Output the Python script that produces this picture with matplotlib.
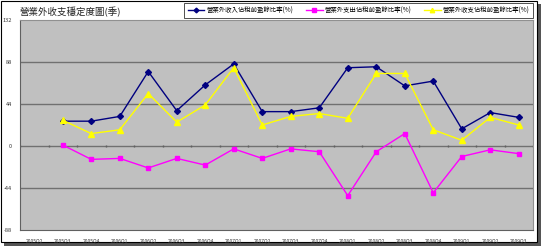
import numpy as np
import matplotlib.pyplot as plt
from matplotlib.patches import Rectangle

plt.rcParams['font.family'] = ['Noto Sans CJK TC', 'DejaVu Sans']

quarters = ['2005Q2', '2005Q3', '2005Q4', '2006Q1', '2006Q2', '2006Q3', '2006Q4',
            '2007Q1', '2007Q2', '2007Q3', '2007Q4', '2008Q1', '2008Q2', '2008Q3',
            '2008Q4', '2009Q1', '2009Q2', '2009Q3']
# 2005Q2 has no data
income = [np.nan, 26, 26, 31, 78, 37, 64, 86, 36, 36, 40, 82, 83, 63, 68, 18, 35, 30]
expense = [np.nan, 1, -14, -13, -23, -13, -20, -3, -13, -3, -6, -52, -6, 13, -49, -11, -4, -8]
net = [np.nan, 27, 13, 17, 55, 25, 43, 82, 22, 31, 34, 29, 76, 76, 17, 6, 30, 22]

labels = ['營業外收入佔稅前盈餘比率(%)', '營業外支出佔稅前盈餘比率(%)', '營業外收支佔稅前盈餘比率(%)']
yticks = [-88, -44, 0, 44, 88, 132]

W, H = 544, 247
fig = plt.figure(figsize=(W / 100, H / 100), dpi=100)

# outer chart border with a shadow
fig.patches.append(Rectangle((4 / W, 1 - 246 / H), 537 / W, 242 / H, transform=fig.transFigure,
                             facecolor='#555555', edgecolor='none', zorder=-3))
fig.patches.append(Rectangle((1 / W, 1 - 242 / H), 536 / W, 241 / H, transform=fig.transFigure,
                             facecolor='white', edgecolor='black', lw=0.8, zorder=-2))

ax = fig.add_axes([20 / W, 1 - 230 / H, 513 / W, 210 / H])
ax.set_facecolor('#C0C0C0')
x = np.arange(len(quarters))

ax.plot(x, income, color='#000080', marker='D', ms=3, lw=1, label=labels[0], zorder=3)
ax.plot(x, expense, color='#FF00FF', marker='s', ms=3.5, lw=1, label=labels[1], zorder=3)
ax.plot(x, net, color='#FFFF00', marker='^', ms=4, lw=1, label=labels[2], zorder=3)

ax.set_xlim(-0.5, len(quarters) - 0.5)
ax.set_ylim(-88, 132)
ax.set_yticks(yticks)
ax.set_yticklabels([str(v) for v in yticks], fontsize=4, color='#333333')
ax.set_xticks(x)
ax.set_xticklabels(quarters, fontsize=3.5, color='#333333')
ax.tick_params(axis='both', length=0, pad=6)
for v in yticks[1:-1]:
    ax.axhline(v, color='#707070', lw=1, zorder=1)
# category tick marks on zero line
ax.plot(np.arange(len(quarters) + 1) - 0.5, np.zeros(len(quarters) + 1), ls='none',
        marker='|', ms=2, color='#606060', zorder=2)
for s in ['top', 'right']:
    ax.spines[s].set_color('#909090')
for s in ['left', 'bottom']:
    ax.spines[s].set_color('#606060')

fig.text(20 / W, 1 - 12 / H, '營業外收支穩定度圖(季)', fontsize=6.8, va='center', ha='left', color='#222222')

leg = fig.legend(loc='upper right', bbox_to_anchor=(533 / W, 1 - 3 / H), ncol=3, fontsize=4.6,
                 frameon=True, fancybox=False, edgecolor='black', borderpad=0.55,
                 handlelength=2.6, columnspacing=2.0, handletextpad=0.3, borderaxespad=0,
                 markerscale=0.8)
leg.get_frame().set_linewidth(0.6)

fig.savefig('out.png', dpi=100)
